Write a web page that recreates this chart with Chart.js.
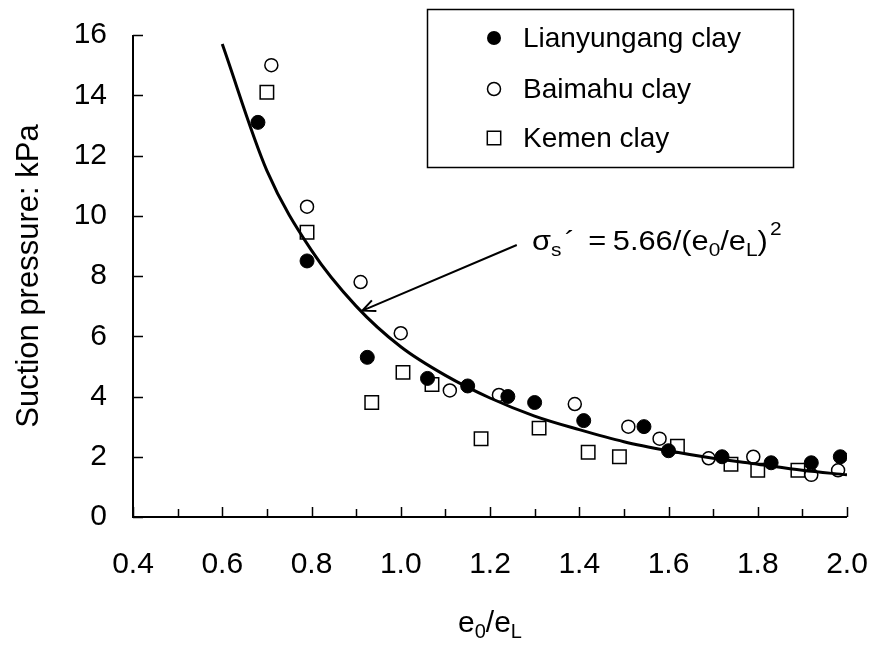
<!DOCTYPE html>
<html lang="en">
<head>
<meta charset="UTF-8">
<title>Suction pressure vs e0/eL</title>
<script src="https://cdn.jsdelivr.net/npm/chart.js@4"></script>
<style>
  html, body { margin: 0; padding: 0; background: #fff; }
  #wrap { width: 874px; height: 646px; }
</style>
</head>
<body>
<div id="wrap"><canvas id="chart" width="874" height="646"></canvas></div>
<script>
  const lianX = [0.68, 0.79, 0.925, 1.06, 1.15, 1.24, 1.30, 1.41, 1.545, 1.60, 1.72, 1.83, 1.92, 1.985];
  const lianY = [13.1, 8.5, 5.3, 4.6, 4.35, 4.0, 3.8, 3.2, 3.0, 2.2, 2.0, 1.8, 1.8, 2.0];

  const baiX = [0.71, 0.79, 0.91, 1.0, 1.11, 1.22, 1.39, 1.51, 1.58, 1.69, 1.79, 1.92, 1.98];
  const baiY = [15.0, 10.3, 7.8, 6.1, 4.2, 4.05, 3.75, 3.0, 2.6, 1.95, 2.0, 1.4, 1.55];

  const kemX = [0.70, 0.79, 0.935, 1.005, 1.07, 1.18, 1.31, 1.42, 1.49, 1.62, 1.74, 1.80, 1.89];
  const kemY = [14.1, 9.45, 3.8, 4.8, 4.4, 2.6, 2.95, 2.15, 2.0, 2.35, 1.75, 1.55, 1.55];

  // fitted curve as drawn
  const fitX = [0.6, 0.7, 0.8, 0.9, 1.0, 1.1, 1.2, 1.3, 1.4, 1.5, 1.6, 1.7, 1.8, 1.9, 2.0];
  const fitY = [15.7, 11.5, 8.85, 7.0, 5.65, 4.7, 3.95, 3.35, 2.9, 2.5, 2.2, 1.95, 1.75, 1.55, 1.4];

  const seriesNames = ['Lianyungang clay', 'Baimahu clay', 'Kemen clay'];

  // annotation (data units)
  const arrowFrom = [1.26, 9.03];
  const arrowTo = [0.914, 6.85];
  const eqAt = [1.294, 8.86];

  const FONT = '"Liberation Sans", Arial, sans-serif';

  function pts(xs, ys) {
    return xs.map((x, i) => ({ x: x, y: ys[i] }));
  }

  function marker(ctx, kind, x, y) {
    ctx.save();
    ctx.strokeStyle = '#000';
    ctx.fillStyle = '#000';
    ctx.lineWidth = 1.5;
    ctx.beginPath();
    if (kind === 0) {
      ctx.arc(x, y, 7, 0, Math.PI * 2);
      ctx.fill();
    } else if (kind === 1) {
      ctx.arc(x, y, 6.5, 0, Math.PI * 2);
      ctx.fillStyle = '#fff';
      ctx.fill();
      ctx.stroke();
    } else {
      ctx.rect(x - 6.7, y - 6.7, 13.4, 13.4);
      ctx.fillStyle = '#fff';
      ctx.fill();
      ctx.stroke();
    }
    ctx.restore();
  }

  // draws text pieces with sub/superscripts, returns end x
  function richText(ctx, parts, x, y) {
    parts.forEach(p => {
      ctx.font = p.size + 'px ' + FONT;
      ctx.fillText(p.t, x, y + (p.dy || 0));
      x += ctx.measureText(p.t).width + (p.gap || 0);
    });
    return x;
  }

  function richWidth(ctx, parts) {
    let w = 0;
    parts.forEach(p => {
      ctx.font = p.size + 'px ' + FONT;
      w += ctx.measureText(p.t).width + (p.gap || 0);
    });
    return w;
  }

  function noOverflow(s) {
    s.paddingTop = 0; s.paddingBottom = 0;
    s.paddingLeft = 0; s.paddingRight = 0;
  }

  const decor = {
    id: 'decor',
    afterDraw(chart) {
      const ctx = chart.ctx;
      const xs = chart.scales.x, ys = chart.scales.y;
      const a = chart.chartArea;
      ctx.save();
      ctx.strokeStyle = '#000';
      ctx.fillStyle = '#000';

      // axes
      ctx.lineWidth = 2;
      ctx.beginPath();
      ctx.moveTo(a.left, a.top);
      ctx.lineTo(a.left, a.bottom);
      ctx.lineTo(a.right, a.bottom);
      ctx.stroke();

      // inward ticks
      ctx.lineWidth = 1.5;
      ctx.beginPath();
      for (let v = 0; v <= 16; v += 2) {
        const py = Math.round(ys.getPixelForValue(v)) + 0.5;
        ctx.moveTo(a.left, py);
        ctx.lineTo(a.left + 10, py);
      }
      for (let i = 0; i <= 16; i++) {
        const px = Math.round(xs.getPixelForValue(0.4 + i * 0.1)) + 0.5;
        ctx.moveTo(px, a.bottom);
        ctx.lineTo(px, a.bottom - (i % 2 === 0 ? 10 : 8));
      }
      ctx.stroke();

      // legend box
      ctx.lineWidth = 1.5;
      ctx.strokeRect(427.5, 9.5, 366, 158);
      ctx.textBaseline = 'middle';
      ctx.textAlign = 'left';
      const rows = [38, 89, 138];
      seriesNames.forEach((name, i) => {
        marker(ctx, i, 494, rows[i]);
        ctx.font = '28px ' + FONT;
        ctx.fillText(name, 523, rows[i] + 1);
      });

      // arrow
      const x1 = xs.getPixelForValue(arrowFrom[0]), y1 = ys.getPixelForValue(arrowFrom[1]);
      const x2 = xs.getPixelForValue(arrowTo[0]), y2 = ys.getPixelForValue(arrowTo[1]);
      ctx.lineWidth = 2;
      ctx.beginPath();
      ctx.moveTo(x1, y1);
      ctx.lineTo(x2, y2);
      const ang = Math.atan2(y1 - y2, x1 - x2);
      const hl = 14, ha = 0.42;
      ctx.moveTo(x2 + hl * Math.cos(ang + ha), y2 + hl * Math.sin(ang + ha));
      ctx.lineTo(x2, y2);
      ctx.lineTo(x2 + hl * Math.cos(ang - ha), y2 + hl * Math.sin(ang - ha));
      ctx.stroke();

      // equation (the original glyphs are a little wide)
      ctx.textBaseline = 'alphabetic';
      const ex = xs.getPixelForValue(eqAt[0]), ey = ys.getPixelForValue(eqAt[1]);
      ctx.save();
      ctx.translate(ex, ey);
      ctx.scale(1.1, 1);
      richText(ctx, [
        { t: 'σ', size: 28 },
        { t: 's', size: 19, dy: 6, gap: 3 },
        { t: '´', size: 28, gap: 12 },
        { t: '=', size: 28, gap: 6 },
        { t: '5.66/(e', size: 28 },
        { t: '0', size: 19, dy: 6 },
        { t: '/e', size: 28 },
        { t: 'L', size: 19, dy: 6 },
        { t: ')', size: 28, gap: 2 },
        { t: '2', size: 19, dy: -15 }
      ], 0, 0);
      ctx.restore();

      // x axis title
      const xt = [
        { t: 'e', size: 30 },
        { t: '0', size: 20, dy: 6 },
        { t: '/e', size: 30 },
        { t: 'L', size: 20, dy: 6 }
      ];
      const w = richWidth(ctx, xt);
      richText(ctx, xt, (a.left + a.right) / 2 - w / 2, 632);

      ctx.restore();
    }
  };

  new Chart(document.getElementById('chart'), {
    type: 'scatter',
    data: {
      datasets: [
        {
          label: 'fit',
          data: pts(fitX, fitY),
          showLine: true,
          borderColor: '#000',
          borderWidth: 3,
          pointRadius: 0,
          cubicInterpolationMode: 'monotone',
          order: 0
        },
        {
          label: seriesNames[0],
          data: pts(lianX, lianY),
          pointStyle: 'circle',
          pointRadius: 7,
          backgroundColor: '#000',
          borderColor: '#000',
          borderWidth: 1,
          order: 1
        },
        {
          label: seriesNames[1],
          data: pts(baiX, baiY),
          pointStyle: 'circle',
          pointRadius: 6.5,
          backgroundColor: '#fff',
          borderColor: '#000',
          borderWidth: 1.5,
          order: 2
        },
        {
          label: seriesNames[2],
          data: pts(kemX, kemY),
          pointStyle: 'rect',
          pointRadius: 9.5,
          backgroundColor: '#fff',
          borderColor: '#000',
          borderWidth: 1.5,
          order: 3
        }
      ]
    },
    options: {
      responsive: false,
      animation: false,
      devicePixelRatio: 1,
      layout: { padding: { left: 0, right: 27, top: 35, bottom: 0 } },
      plugins: {
        legend: { display: false },
        tooltip: { enabled: false }
      },
      scales: {
        x: {
          type: 'linear',
          min: 0.4,
          max: 2.0,
          grid: { display: false, drawTicks: false },
          border: { display: false },
          ticks: {
            stepSize: 0.2,
            padding: 30,
            color: '#000',
            font: { family: FONT, size: 30 },
            callback: v => v.toFixed(1)
          },
          afterFit: s => { s.height = 129; noOverflow(s); }
        },
        y: {
          min: 0,
          max: 16,
          grid: { display: false, drawTicks: false },
          border: { display: false },
          ticks: {
            stepSize: 2,
            padding: 26,
            color: '#000',
            font: { family: FONT, size: 30 }
          },
          title: {
            display: true,
            text: 'Suction pressure: kPa',
            color: '#000',
            font: { family: FONT, size: 31 },
            padding: { top: 11, bottom: 0 }
          },
          afterFit: s => { s.width = 133; noOverflow(s); }
        }
      }
    },
    plugins: [decor]
  });
</script>
</body>
</html>
